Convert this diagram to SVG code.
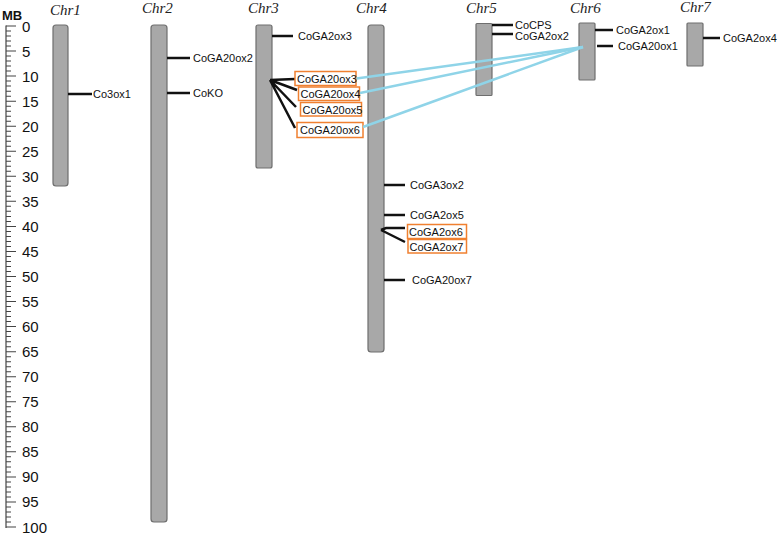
<svg xmlns="http://www.w3.org/2000/svg" width="778" height="535" viewBox="0 0 778 535">
<style>
.chr{fill:#a8a8a8;stroke:#6e6e6e;stroke-width:1.2}
.lbl{font-family:"Liberation Sans",Arial,sans-serif;font-size:11px;fill:#111}
.ax{font-family:"Liberation Sans",Arial,sans-serif;font-size:15px;fill:#111}
.cn{font-family:"Liberation Serif","DejaVu Serif",serif;font-style:italic;font-size:15px;fill:#222}
.tick{stroke:#111;stroke-width:2.5;fill:none}
.box{fill:none;stroke:#f08030;stroke-width:1.5}
.link{stroke:#8fd4e8;stroke-width:2.5;fill:none}
</style>
<rect width="778" height="535" fill="#fff"/>
<g id="axis">
<text x="2" y="20" font-family="Liberation Sans,Arial,sans-serif" font-size="13" font-weight="bold" fill="#111">MB</text>
<line x1="6" y1="25.5" x2="6" y2="528" stroke="#444" stroke-width="1.2"/>
<line x1="8.5" y1="25.5" x2="8.5" y2="528" stroke="#444" stroke-width="5" stroke-dasharray="1 4.01"/>
<line x1="13.5" y1="25.5" x2="13.5" y2="528" stroke="#444" stroke-width="5" stroke-dasharray="1 24.05"/>
<g class="ax">
<text x="22" y="31.5">0</text>
<text x="22" y="56.5">5</text>
<text x="22" y="81.6">10</text>
<text x="22" y="106.6">15</text>
<text x="22" y="131.7">20</text>
<text x="22" y="156.7">25</text>
<text x="22" y="181.8">30</text>
<text x="22" y="206.8">35</text>
<text x="22" y="231.9">40</text>
<text x="22" y="256.9">45</text>
<text x="22" y="282">50</text>
<text x="22" y="307">55</text>
<text x="22" y="332.1">60</text>
<text x="22" y="357.1">65</text>
<text x="22" y="382.2">70</text>
<text x="22" y="407.2">75</text>
<text x="22" y="432.3">80</text>
<text x="22" y="457.3">85</text>
<text x="22" y="482.4">90</text>
<text x="22" y="507.4">95</text>
<text x="22" y="532.5">100</text>
</g>
</g>
<g id="chr1">
<text class="cn" x="50" y="15">Chr1</text>
<rect class="chr" x="53" y="25" width="15" height="161" rx="3"/>
<line class="tick" x1="68" y1="94" x2="92" y2="94"/>
<text class="lbl" x="93" y="98">Co3ox1</text>
</g>
<g id="chr2">
<text class="cn" x="142" y="13">Chr2</text>
<rect class="chr" x="151" y="25" width="16" height="497" rx="3"/>
<line class="tick" x1="167" y1="58" x2="190" y2="58"/>
<text class="lbl" x="193" y="62">CoGA20ox2</text>
<line class="tick" x1="167" y1="93" x2="190" y2="93"/>
<text class="lbl" x="193" y="97">CoKO</text>
</g>
<g id="chr3">
<text class="cn" x="248" y="13">Chr3</text>
<rect class="chr" x="256" y="25" width="16" height="143" rx="2"/>
<line class="tick" x1="272" y1="36" x2="293" y2="36"/>
<text class="lbl" x="298" y="40">CoGA2ox3</text>
<path class="tick" d="M270 80 L295 79 M270 80 L297 90 M270 80 L296 107 M270 80 L295 128"/>
<rect class="box" x="295" y="71.5" width="61" height="14"/>
<text class="lbl" x="297" y="82.5">CoGA20ox3</text>
<rect class="box" x="298.5" y="87" width="61" height="13.5"/>
<text class="lbl" x="300.5" y="98">CoGA20ox4</text>
<rect class="box" x="300.5" y="102.5" width="61" height="13.5"/>
<text class="lbl" x="302.5" y="113.5">CoGA20ox5</text>
<rect class="box" x="297" y="122.5" width="66" height="15"/>
<text class="lbl" x="300" y="134">CoGA20ox6</text>
</g>
<g id="chr4">
<text class="cn" x="356" y="13">Chr4</text>
<rect class="chr" x="368" y="25" width="16" height="327" rx="3"/>
<line class="tick" x1="384" y1="185" x2="405" y2="185"/>
<text class="lbl" x="410" y="189">CoGA3ox2</text>
<line class="tick" x1="384" y1="215" x2="405" y2="215"/>
<text class="lbl" x="410" y="219">CoGA2ox5</text>
<path class="tick" d="M381 230 L386 228 L405 228 M381 230 L405 242"/>
<rect class="box" x="407.5" y="224.5" width="59" height="14"/>
<text class="lbl" x="409" y="235.5">CoGA2ox6</text>
<rect class="box" x="408" y="239.5" width="58.5" height="13.5"/>
<text class="lbl" x="409.5" y="250.5">CoGA2ox7</text>
<line class="tick" x1="384" y1="280" x2="405" y2="280"/>
<text class="lbl" x="412" y="284">CoGA20ox7</text>
</g>
<g id="chr5">
<text class="cn" x="466" y="13">Chr5</text>
<rect class="chr" x="476" y="23.5" width="16" height="72" rx="1"/>
<line class="tick" x1="492" y1="25" x2="513" y2="25"/>
<text class="lbl" x="515" y="28.5">CoCPS</text>
<line class="tick" x1="492" y1="34" x2="513" y2="34"/>
<text class="lbl" x="515" y="39.5">CoGA2ox2</text>
</g>
<g id="chr6">
<text class="cn" x="570" y="13">Chr6</text>
<rect class="chr" x="579" y="23" width="16" height="57" rx="1"/>
<line class="tick" x1="595" y1="30" x2="613" y2="30"/>
<text class="lbl" x="616" y="34">CoGA2ox1</text>
<line class="tick" x1="597" y1="46" x2="613" y2="46"/>
<text class="lbl" x="618" y="50">CoGA20ox1</text>
</g>
<g id="chr7">
<text class="cn" x="680" y="12">Chr7</text>
<rect class="chr" x="687" y="23" width="16" height="43" rx="1"/>
<line class="tick" x1="703" y1="38" x2="720" y2="38"/>
<text class="lbl" x="723" y="42">CoGA2ox4</text>
</g>
<g id="connectors">
<line class="link" x1="583" y1="47" x2="356.5" y2="78.5"/>
<line class="link" x1="583" y1="47" x2="360" y2="93"/>
<line class="link" x1="583" y1="47" x2="363" y2="127"/>
</g>
</svg>
